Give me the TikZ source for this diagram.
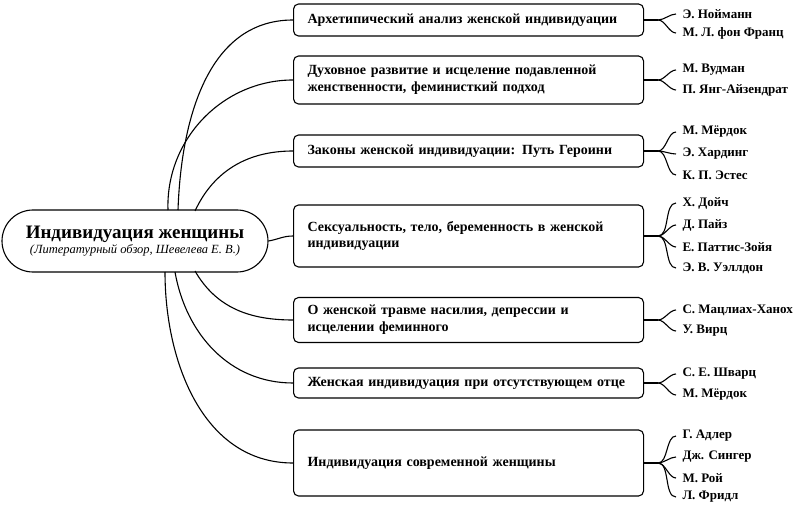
\documentclass[tikz,border=0pt]{standalone}
\usepackage{fontspec}
\setmainfont{Liberation Serif}
\begin{document}
\begin{tikzpicture}[x=1pt,y=-1pt,line width=1.1pt,
  topic/.style={draw,rounded corners=5pt,minimum width=350pt,inner xsep=14pt,align=left,text width=322pt,font=\bfseries\fontsize{14}{17}\selectfont,anchor=west},
  author/.style={anchor=west,inner sep=1pt,font=\bfseries\fontsize{13}{15}\selectfont},
  link/.style={line width=1.1pt}]
\useasboundingbox (0,0) rectangle (800,505);
\node[draw,rounded corners=31pt,minimum width=266pt,minimum height=62pt,align=center] (root) at (135,241)
 {{\bfseries\fontsize{19}{22}\selectfont Индивидуация женщины}\\[1pt]{\itshape\fontsize{12.5}{14}\selectfont (Литературный обзор, Шевелева Е.~В.)}};
\node[topic,minimum height=32pt] (b1) at (293,20) {Архетипический анализ женской индивидуации};
\node[topic,minimum height=48pt] (b2) at (293,80) {Духовное развитие и исцеление подавленной\\женственности, феминисткий подход};
\node[topic,minimum height=32pt] (b3) at (293,151) {Законы женской индивидуации: Путь Героини};
\node[topic,minimum height=62pt] (b4) at (293,236) {Сексуальность, тело, беременность в женской\\индивидуации};
\node[topic,minimum height=45pt] (b5) at (293,320) {О женской травме насилия, депрессии и\\исцелении феминного};
\node[topic,minimum height=30pt] (b6) at (293,383) {Женская индивидуация при отсутствующем отце};
\node[topic,minimum height=66pt] (b7) at (293,463) {Индивидуация современной женщины};
\coordinate (s1) at (178,210);
\coordinate (s2) at (168,210);
\coordinate (s3) at (195,211);
\coordinate (s5) at (195,271);
\coordinate (s6) at (175,272);
\coordinate (s7) at (165,272);
\draw[link] (s1) to[out=88,in=180] (b1.west);
\draw[link] (s2) to[out=92,in=180] (b2.west);
\draw[link] (s3) to[out=65,in=180] (b3.west);
\draw[link] (root.east) to[out=10,in=180] (b4.west);
\draw[link] (s5) to[out=-60,in=180] (b5.west);
\draw[link] (s6) to[out=-80,in=180] (b6.west);
\draw[link] (s7) to[out=-90,in=180] (b7.west);
\foreach \b/\list in {b1/{14/Э. Нойманн,33/М. Л. фон Франц},
  b2/{70/М. Вудман,90/П. Янг-Айзендрат},
  b3/{132/М. Мёрдок,154/Э. Хардинг,175/К. П. Эстес},
  b4/{203/Х. Дойч,225/Д. Пайз,247/Е. Паттис-Зойя,268/Э. В. Уэллдон},
  b5/{310/С. Мацлиах-Ханох,331/У. Вирц},
  b6/{374/С. Е. Шварц,395/М. Мёрдок},
  b7/{436/Г. Адлер,457/Дж. Сингер,478/М. Рой,497/Л. Фридл}}{
  \coordinate (f\b) at ([xshift=14pt]\b.east);
  \draw[link] (\b.east) -- (f\b);
  \foreach \yy/\nm [count=\i] in \list {
    \node[author] (n\b\i) at (681,\yy) {\nm};
    \draw[link] (f\b) to[out=0,in=180,looseness=0.8] ([xshift=-5pt]n\b\i.west);
  }
}
\end{tikzpicture}
\end{document}
